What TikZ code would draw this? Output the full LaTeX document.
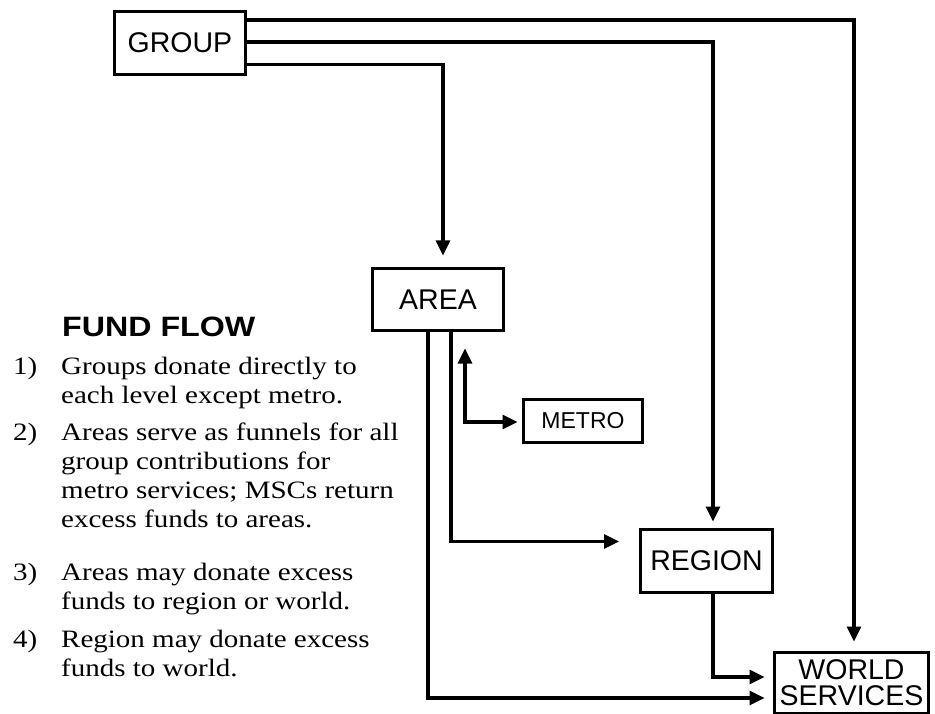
\documentclass[tikz,border=0pt]{standalone}
\usepackage{fontspec}
\setmainfont[FakeStretch=1.16]{Liberation Serif}
\newfontfamily\boxfont{Liberation Sans}
\newfontfamily\headfont[FakeStretch=1.15]{Liberation Sans}
\usetikzlibrary{arrows.meta}
\def\lw{3.1pt}
\def\tip{Triangle[length=15pt,width=14pt]}

\begin{document}
\begin{tikzpicture}[x=1pt,y=-1pt,
  box/.style={draw, line width=3pt, inner sep=0pt, font=\boxfont\fontsize{28.5}{26}\selectfont, align=center},
  flow/.style={line width=\lw, -{\tip}},
  num/.style={anchor=base west, inner sep=0pt, font=\fontsize{25}{29}\selectfont},
  item/.style={anchor=base west, inner sep=0pt, align=left, font=\fontsize{25}{29}\selectfont}]
\useasboundingbox (0,0) rectangle (935,714);

\node[box, minimum width=131pt, minimum height=63pt] (group) at (180,43) {GROUP};
\node[box, minimum width=131pt, minimum height=62pt] (area) at (438,299.5) {AREA};
\node[box, minimum width=119pt, minimum height=43pt, font=\boxfont\fontsize{23}{23}\selectfont] (metro) at (583,421) {METRO};
\node[box, minimum width=132pt, minimum height=63pt] (region) at (706.5,561) {REGION};
\node[box, minimum width=154pt, minimum height=61pt] (world) at (851.5,682.5) {WORLD\\SERVICES};

\draw[flow] ([yshift=-10pt]group.north east) -| ([xshift=2.5pt,yshift=9pt]world.north);
\draw[flow] ([yshift=1pt]group.east) -| ([xshift=6.5pt,yshift=6.5pt]region.north);
\draw[flow] ([yshift=11.5pt]group.south east) -| ([xshift=5pt,yshift=11.5pt]area.north);
\draw[flow] ([xshift=13pt]area.south) |- ([xshift=-20pt,yshift=-13.5pt]region.north west);
\draw[flow] ([xshift=-10pt]area.south) |- ([xshift=-8.5pt,yshift=-15.5pt]world.west);
\draw[flow] ([xshift=6.5pt]region.south) |- ([xshift=-8.5pt,yshift=5.5pt]world.west);
\draw[flow, {\tip}-{\tip}] ([xshift=27pt,yshift=-16.5pt]area.south) |- ([xshift=-4.5pt,yshift=-1pt]metro.west);

\node[anchor=base west, inner sep=0pt, font=\headfont\bfseries\fontsize{28}{28}\selectfont] (title) at (62,337) {FUND FLOW};
\foreach \n/\y/\z/\t in {1/374/403/{Groups donate directly to\\each level except metro.},
  2/440/527/{Areas serve as funnels for all\\group contributions for\\metro services; MSCs return\\excess funds to areas.},
  3/580/609/{Areas may donate excess\\funds to region or world.},
  4/647/676/{Region may donate excess\\funds to world.}}{
  \node[num] (num\n) at (13,\y) {\n)};
  \node[item] (item\n) at (61,\z) {\t};
}
\end{tikzpicture}
\end{document}
